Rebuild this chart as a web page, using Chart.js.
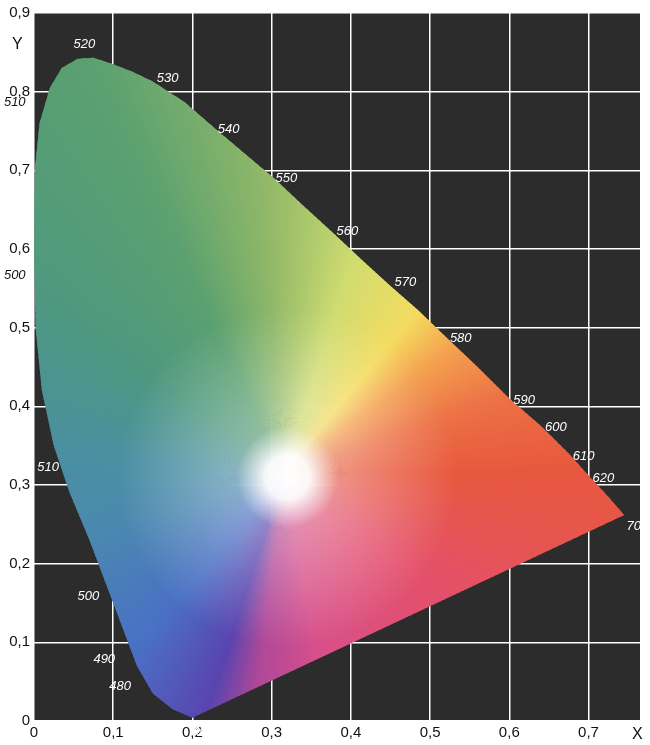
<!DOCTYPE html>
<html><head><meta charset="utf-8">
<script src="https://cdn.jsdelivr.net/npm/chart.js@4/dist/chart.umd.min.js"></script>
<style>html,body{margin:0;background:#fff}#w{width:650px;height:745px}</style>
</head><body><div id="w"><canvas id="c"></canvas></div>
<script>
const locusX=[0.200,0.175,0.150,0.130,0.100,0.070,0.045,0.025,0.010,0.002,0.000,0.001,0.007,0.020,0.035,0.055,0.075,0.100,0.125,0.150,0.190,0.230,0.270,0.303,0.340,0.378,0.415,0.450,0.485,0.520,0.560,0.600,0.640,0.675,0.700,0.725,0.745,0.200];
const locusY=[0.004,0.015,0.035,0.070,0.150,0.230,0.290,0.350,0.420,0.500,0.600,0.700,0.760,0.805,0.830,0.842,0.843,0.835,0.825,0.813,0.787,0.752,0.718,0.690,0.655,0.620,0.585,0.553,0.522,0.488,0.450,0.410,0.375,0.340,0.312,0.285,0.262,0.004];
const waveLabels=['520','530','540','550','560','570','580','590','600','610','620','700','510','500','510','500','490','480','400'];
const labelX=[0.050,0.155,0.232,0.305,0.382,0.455,0.525,0.605,0.645,0.680,0.705,0.748,-0.038,-0.038,0.004,0.055,0.075,0.095,0.200];
const labelY=[0.860,0.817,0.752,0.690,0.622,0.558,0.487,0.408,0.373,0.337,0.309,0.247,0.787,0.567,0.322,0.158,0.078,0.044,-0.013];
const tickVals=[0,0.1,0.2,0.3,0.4,0.5,0.6,0.7,0.8,0.9];
const fmt=v=>v===0?'0':v.toFixed(1).replace('.',',');
const pts=locusX.map((x,i)=>({x,y:locusY[i]}));
const stops=[[0,[232,88,62]],[0.1,[228,80,106]],[0.22,[216,80,138]],[0.27,[176,72,152]],[0.3,[90,68,176]],[0.36,[74,112,196]],[0.45,[74,136,176]],[0.52,[74,144,160]],[0.6,[78,152,128]],[0.68,[90,160,112]],[0.74,[144,184,104]],[0.8,[207,220,112]],[0.86,[244,220,96]],[0.9,[244,160,80]],[0.95,[236,112,70]],[1,[232,88,62]]];
function col(t){for(let i=1;i<stops.length;i++){if(t<=stops[i][0]){const a=stops[i-1],b=stops[i],f=(t-a[0])/(b[0]-a[0]);return 'rgb('+a[1].map((v,k)=>Math.round(v+(b[1][k]-v)*f)).join(',')+')';}}return 'rgb(232,88,62)';}
const bg={id:'bg',beforeDraw(c){const a=c.chartArea,x=c.ctx;x.save();x.fillStyle='#2c2c2c';x.fillRect(a.left,a.top,a.right-a.left,a.bottom-a.top);x.restore();}};
const shade={id:'shade',afterDatasetsDraw(c){const x=c.ctx,sx=c.scales.x,sy=c.scales.y;x.save();
 x.beginPath();locusX.forEach((v,i)=>{const px=sx.getPixelForValue(v),py=sy.getPixelForValue(locusY[i]);i?x.lineTo(px,py):x.moveTo(px,py);});x.closePath();x.clip();
 const cx=sx.getPixelForValue(0.315),cy=sy.getPixelForValue(0.315);
 for(let d=0;d<360;d+=1){const a0=d*Math.PI/180,a1=(d+1.5)*Math.PI/180;x.beginPath();x.moveTo(cx,cy);x.lineTo(cx+1500*Math.cos(a0),cy+1500*Math.sin(a0));x.lineTo(cx+1500*Math.cos(a1),cy+1500*Math.sin(a1));x.closePath();x.fillStyle=col((d+0.75)/360);x.fill();}
 const gx=sx.getPixelForValue(0.32),gy=sy.getPixelForValue(0.31);const g=x.createRadialGradient(gx,gy,0,gx,gy,170);
 g.addColorStop(0,'rgba(255,255,255,1)');g.addColorStop(0.13,'rgba(255,255,255,0.95)');g.addColorStop(0.3,'rgba(255,255,255,0.35)');g.addColorStop(1,'rgba(255,255,255,0)');x.fillStyle=g;x.fillRect(0,0,650,745);x.restore();}};
const lab={id:'lab',afterDraw(c){const x=c.ctx,sx=c.scales.x,sy=c.scales.y;x.save();
 x.fillStyle='#fff';x.font='italic 13px "Liberation Sans"';x.textAlign='left';x.textBaseline='middle';
 waveLabels.forEach((t,i)=>{x.fillStyle=labelX[i]<0?'#111':'#fff';x.fillText(t,sx.getPixelForValue(labelX[i]),sy.getPixelForValue(labelY[i]));});
 x.fillStyle='#111';x.font='16px "Liberation Sans"';x.fillText('Y',12,45);x.fillText('X',632,735);x.restore();}};
new Chart(document.getElementById('c'),{type:'scatter',
 data:{datasets:[{data:pts,showLine:true,fill:false,borderColor:'rgba(0,0,0,0)',borderWidth:0,pointRadius:0}]},
 options:{responsive:true,maintainAspectRatio:false,animation:false,layout:{padding:{top:8,right:10,left:0,bottom:0}},
 plugins:{legend:{display:false},tooltip:{enabled:false}},
 scales:{x:{type:'linear',min:0,max:0.765,z:1,afterBuildTicks:s=>{s.ticks=tickVals.slice(0,8).map(v=>({value:v}))},
   ticks:{callback:fmt,color:'#111',font:{size:15,family:'Liberation Sans'},maxRotation:0},grid:{color:'#fff',lineWidth:1.5,drawTicks:false},border:{display:false},afterFit:s=>{s.height=24}},
  y:{type:'linear',min:0,max:0.9,z:1,afterBuildTicks:s=>{s.ticks=tickVals.map(v=>({value:v}))},
   ticks:{callback:fmt,color:'#111',font:{size:15,family:'Liberation Sans'},padding:4},grid:{color:'#fff',lineWidth:1.5,drawTicks:false},border:{display:false},afterFit:s=>{s.width=34}}}},
 plugins:[bg,shade,lab]});
</script></body></html>
